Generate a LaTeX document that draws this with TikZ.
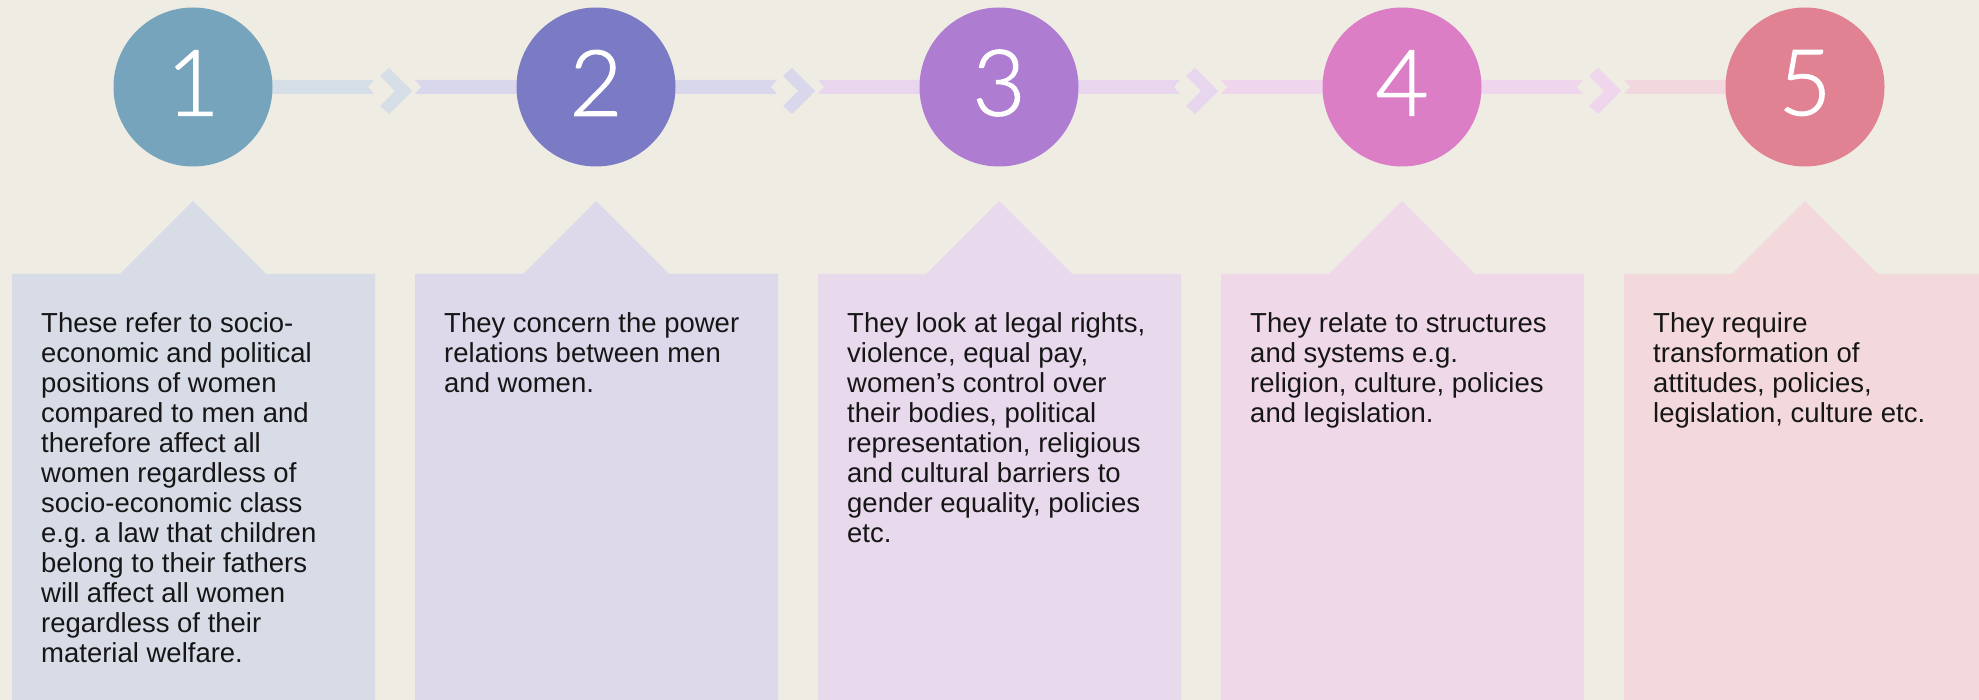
\documentclass[tikz,border=0pt]{standalone}
\usepackage{fontspec}
\setmainfont{Liberation Sans}
\newfontfamily\numfont{Lato Light}[FakeBold=1.2]
\usetikzlibrary{calc}
\frenchspacing

\definecolor{paper}{HTML}{EFECE4}
\definecolor{ink}{HTML}{161616}
\definecolor{disc1}{HTML}{76A4BC}
\definecolor{disc2}{HTML}{7A7BC4}
\definecolor{disc3}{HTML}{AE7DD1}
\definecolor{disc4}{HTML}{DB7EC6}
\definecolor{disc5}{HTML}{E18292}
\definecolor{card1}{HTML}{D7DCE7}
\definecolor{card2}{HTML}{DDD9EB}
\definecolor{card3}{HTML}{E8D9ED}
\definecolor{card4}{HTML}{EFD9E8}
\definecolor{card5}{HTML}{F3D9DC}
\definecolor{band1}{HTML}{D6DFE7}
\definecolor{band2}{HTML}{D9D7EB}
\definecolor{band3}{HTML}{E7D6EE}
\definecolor{band4}{HTML}{F0D6EC}
\definecolor{band5}{HTML}{F3D7DF}

\tikzset{
  disc/.style={circle,minimum size=159pt,inner sep=0pt,draw=none},
  numtext/.style={inner sep=0pt,text=white,font=\numfont\fontsize{92}{92}\selectfont},
  cardtext/.style={anchor=north west,inner sep=0pt,align=left,text=ink,
    font=\fontsize{27.5}{30}\selectfont}
}

\begin{document}
\begin{tikzpicture}[x=1pt,y=-1pt]

\useasboundingbox (0,0) rectangle (1979,700);
\fill[paper] (0,0) rectangle (1979,700);
\clip (0,0) rectangle (1979,700);

\foreach \i/\x in {1/193,2/596,3/999,4/1402,5/1805}{\coordinate (p\i) at (\x,87);}

\foreach \i in {1,...,5}{
  \fill[card\i] ($(p\i)+(-181,187)$) -- ($(p\i)+(-73,187)$) -- ($(p\i)+(0,114)$)
     -- ($(p\i)+(73,187)$) -- ($(p\i)+(182,187)$) -- ($(p\i)+(182,620)$)
     -- ($(p\i)+(-181,620)$) -- cycle;
}

\foreach \i/\j in {1/2,2/3,3/4,4/5}{
  \fill[band\i] ($(p\i)+(0,-7)$) -- ++(181,0) -- ++(-6,7) -- ++(6,7) -- ++(-181,0) -- cycle;
  \fill[band\i] ($(p\i)+(196,-19)$) -- ++(23,23) -- ++(-23,23) -- ++(-9,-8)
     -- ++(15,-15) -- ++(-15,-15) -- cycle;
  \fill[band\j] ($(p\i)+(222,-7)$) -- ($(p\j)+(0,-7)$) -- ($(p\j)+(0,7)$)
     -- ($(p\i)+(222,7)$) -- ++(6,-7) -- cycle;
}

\foreach \i in {1,...,5}{
  \node[disc,fill=disc\i] (n\i) at (p\i) {};
  \node[numtext] (d\i) at ($(n\i.center)+(0,-4)$) {\i};
}

\node[cardtext] (t1) at ($(p1)+(-152,225)$) {These refer to socio-\\economic and political\\positions of women\\compared to men and\\therefore affect all\\women regardless of\\socio-economic class\\e.g. a law that children\\belong to their fathers\\will affect all women\\regardless of their\\material welfare.};
\node[cardtext] (t2) at ($(p2)+(-152,225)$) {They concern the power\\relations between men\\and women.};
\node[cardtext] (t3) at ($(p3)+(-152,225)$) {They look at legal rights,\\violence, equal pay,\\women’s control over\\their bodies, political\\representation, religious\\and cultural barriers to\\gender equality, policies\\etc.};
\node[cardtext] (t4) at ($(p4)+(-152,225)$) {They relate to structures\\and systems e.g.\\religion, culture, policies\\and legislation.};
\node[cardtext] (t5) at ($(p5)+(-152,225)$) {They require\\transformation of\\attitudes, policies,\\legislation, culture etc.};

\end{tikzpicture}
\end{document}
